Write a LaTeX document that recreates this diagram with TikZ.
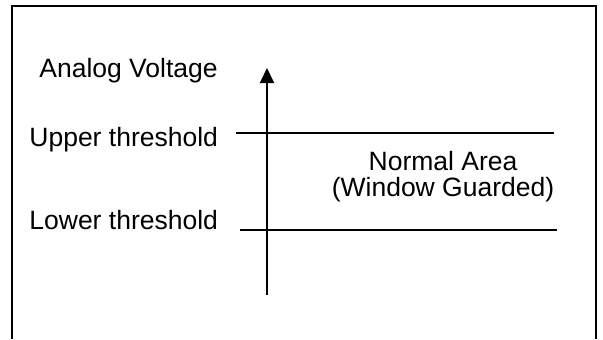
\documentclass[tikz,border=0pt]{standalone}
\usepackage{fontspec}
\setmainfont{Liberation Sans}
\usetikzlibrary{arrows.meta}
\usetikzlibrary{positioning}
\tikzstyle{txt} = [anchor=base west, 
inner sep=0pt, 
font=\fontsize{13.25}{15}\selectfont]
\tikzstyle{limit} = [line width=1pt]
\tikzstyle{vaxis} = [line width=1pt, -{Triangle[length=7.5pt,width=7pt]}]

\begin{document}
\begin{tikzpicture}[x=0.5pt, y=-0.5pt]
            \useasboundingbox (0,0) rectangle (603,339);
            \draw [line width=1pt] (12,339) -- (12,6) -- (596,6) -- (596,339);

            \node (volt) [txt] at (39,77) {Analog Voltage};
            \node (upper) [txt] at (29,146) {Upper threshold};
            \node (lower) [txt] at (29,229) {Lower threshold};
            \node (area) [txt, anchor=base] at (443,170) {Normal Area};
            \node (guard) [txt, anchor=base] at (443,196) {(Window Guarded)};

            \coordinate (ustart) at (236,133);
            \coordinate (uend) at (554,133);
            \coordinate (lstart) at (240,230);
            \coordinate (lend) at (557,230);
            \coordinate (bottom) at (267,295);
            \coordinate (top) at (267,68);

            \draw [limit] (ustart) -- (uend);
            \draw [limit] (lstart) -- (lend);
            \draw [vaxis] (bottom) -- (top);
        \end{tikzpicture}
\end{document}
